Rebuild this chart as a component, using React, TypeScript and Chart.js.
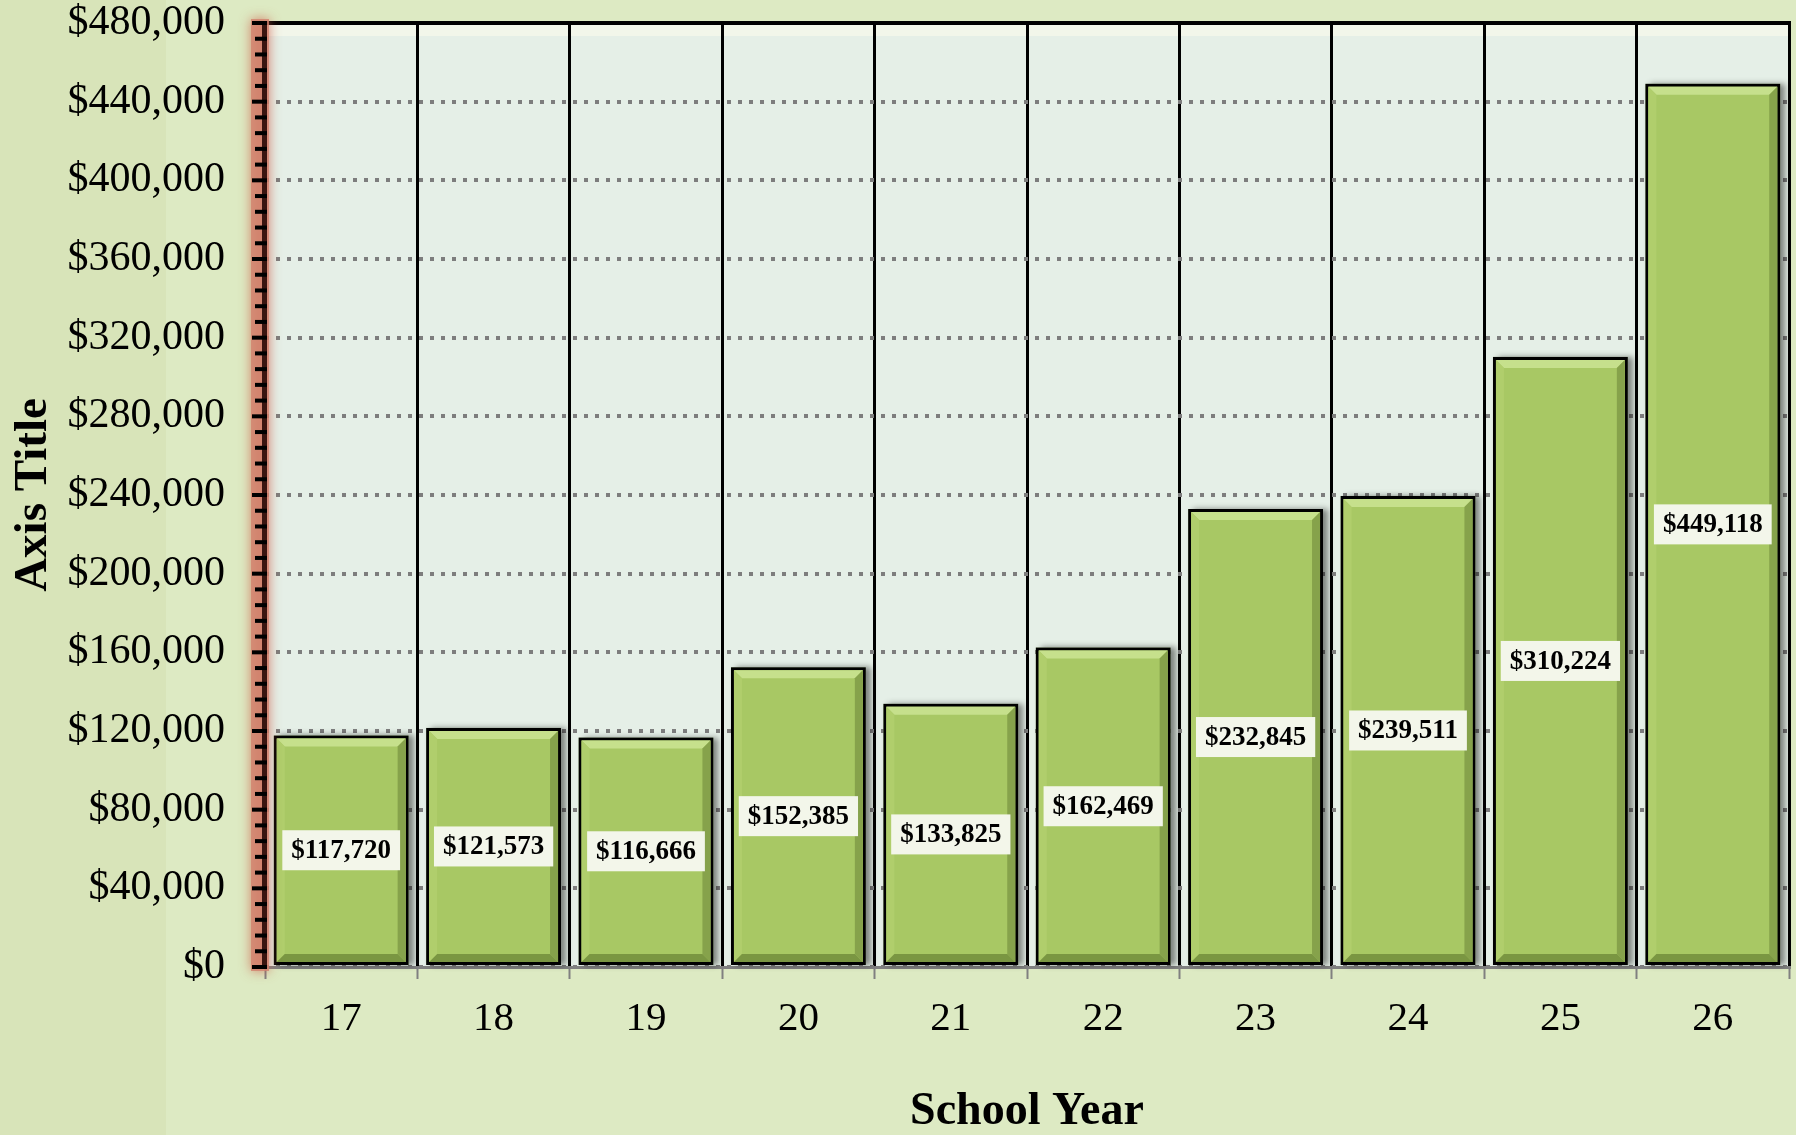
import React, { useEffect, useRef } from "react";
import { Chart, registerables } from "chart.js";

Chart.register(...registerables);

const categories = ["17", "18", "19", "20", "21", "22", "23", "24", "25", "26"];
const values = [117720, 121573, 116666, 152385, 133825, 162469, 232845, 239511, 310224, 449118];
const yMin = 0;
const yMax = 480000;
const yStep = 40000;
const yMinorStep = 8000;
const xTitle = "School Year";
const yTitle = "Axis Title";

const FONT = "'Liberation Serif', 'Times New Roman', serif";
const fmt = (v: number) => "$" + Math.round(v).toLocaleString("en-US");

const bgPlugin = {
  id: "bgPlugin",
  beforeDraw(chart: any) {
    const { ctx, width, height, chartArea } = chart;
    ctx.save();
    ctx.fillStyle = "#DDEAC3";
    ctx.fillRect(0, 0, width, height);
    ctx.fillStyle = "#D8E4B9";
    ctx.fillRect(0, 0, 166, height);
    const { left, top, right, bottom } = chartArea;
    ctx.fillStyle = "#E5EFE7";
    ctx.fillRect(left, top, right - left, bottom - top);
    ctx.fillStyle = "#F2F6EA";
    ctx.fillRect(left, top + 2, right - left, 11);
    ctx.restore();
  },
  beforeDatasetsDraw(chart: any) {
    const { ctx } = chart;
    const meta = chart.getDatasetMeta(0);
    ctx.save();
    ctx.shadowColor = "rgba(0,0,0,0.45)";
    ctx.shadowBlur = 6;
    ctx.shadowOffsetX = 5;
    ctx.shadowOffsetY = 0;
    ctx.fillStyle = "#6d7d5a";
    meta.data.forEach((el: any) => {
      const l = el.x - el.width / 2;
      ctx.fillRect(l, el.y, el.width, el.base - el.y);
    });
    ctx.restore();
  },
  afterDatasetsDraw(chart: any) {
    const { ctx, chartArea } = chart;
    const meta = chart.getDatasetMeta(0);
    ctx.save();
    meta.data.forEach((el: any) => {
      const i = 3;
      const l = el.x - el.width / 2 + i;
      const r = el.x + el.width / 2 - i;
      const t = el.y + i;
      const b = el.base - i;
      const bv = 8;
      const poly = (pts: number[][], color: string) => {
        ctx.beginPath();
        ctx.moveTo(pts[0][0], pts[0][1]);
        for (let k = 1; k < pts.length; k++) ctx.lineTo(pts[k][0], pts[k][1]);
        ctx.closePath();
        ctx.fillStyle = color;
        ctx.fill();
      };
      poly([[l, t], [r, t], [r - bv, t + bv], [l + bv, t + bv]], "#C6E08C");
      poly([[l, t], [l + bv, t + bv], [l + bv, b - bv], [l, b]], "#B0CE6C");
      poly([[r, t], [r, b], [r - bv, b - bv], [r - bv, t + bv]], "#86A24B");
      poly([[l, b], [r, b], [r - bv, b - bv], [l + bv, b - bv]], "#7A9642");
    });
    // data labels
    ctx.font = `bold 27px ${FONT}`;
    ctx.textAlign = "center";
    ctx.textBaseline = "middle";
    meta.data.forEach((el: any, idx: number) => {
      const txt = fmt(values[idx]);
      const cy = (el.y + el.base) / 2;
      const w = ctx.measureText(txt).width + 18;
      const h = 40;
      ctx.fillStyle = "#F3F6EA";
      ctx.fillRect(el.x - w / 2, cy - h / 2, w, h);
      ctx.fillStyle = "#000";
      ctx.fillText(txt, el.x, cy + 1);
    });
    // top border
    ctx.fillStyle = "#000";
    ctx.fillRect(chartArea.left - 2, chartArea.top - 2, chartArea.right - chartArea.left + 4, 4);
    // left axis with red glow
    const ys = chart.scales.y;
    const ax = chartArea.left;
    ctx.save();
    ctx.shadowColor = "rgba(205,90,70,0.9)";
    ctx.shadowBlur = 12;
    ctx.fillStyle = "rgba(210,130,110,0.8)";
    ctx.fillRect(ax - 14, chartArea.top - 4, 18, chartArea.bottom - chartArea.top + 8);
    ctx.restore();
    ctx.fillStyle = "#3a1510";
    ctx.fillRect(ax - 3, chartArea.top - 2, 5, chartArea.bottom - chartArea.top + 2);
    ctx.fillStyle = "#000";
    for (let v = yMin; v <= yMax; v += yMinorStep) {
      const py = ys.getPixelForValue(v);
      const major = v % yStep === 0;
      const x0 = major ? ax - 13 : ax - 10;
      ctx.fillRect(x0, py - 2, ax + 2 - x0, 4);
    }
    ctx.restore();
  },
};

export default function App() {
  const ref = useRef<HTMLCanvasElement | null>(null);
  useEffect(() => {
    if (!ref.current) return;
    const chart = new Chart(ref.current, {
      type: "bar",
      data: {
        labels: categories,
        datasets: [
          {
            data: values,
            backgroundColor: "#A8C864",
            borderColor: "#000000",
            borderWidth: 3,
            borderSkipped: false,
            categoryPercentage: 1,
            barPercentage: 0.885,
          },
        ],
      },
      options: {
        responsive: false,
        devicePixelRatio: 1,
        animation: false,
        layout: { padding: { top: 23, right: 7, left: 0, bottom: 0 } },
        plugins: { legend: { display: false }, tooltip: { enabled: false } },
        scales: {
          x: {
            type: "category",
            offset: true,
            grid: {
              offset: true,
              color: "#000000",
              lineWidth: 3,
              drawTicks: true,
              tickLength: 12,
              tickColor: "#808080",
              tickWidth: 2,
            },
            border: { display: true, color: "#808080", width: 3 },
            ticks: {
              color: "#000",
              font: { family: FONT, size: 41 },
              padding: 16,
              maxRotation: 0,
            },
            title: {
              display: true,
              text: xTitle,
              color: "#000",
              font: { family: FONT, size: 46, weight: "bold", lineHeight: 1 },
              padding: { top: 0, bottom: 0 },
            },
            afterFit(scale: any) {
              scale.height = 168;
              scale.paddingLeft = 0;
              scale.paddingRight = 0;
            },
          },
          y: {
            min: yMin,
            max: yMax,
            ticks: {
              stepSize: yStep,
              color: "#000",
              font: { family: FONT, size: 42 },
              padding: 40,
              callback: (v: any) => fmt(Number(v)),
            },
            grid: {
              color: "#7d7d7d",
              lineWidth: 4,
              drawTicks: false,
              tickLength: 0,
            },
            border: { display: false, dash: [4, 7] },
            title: {
              display: true,
              text: yTitle,
              color: "#000",
              font: { family: FONT, size: 47, weight: "bold", lineHeight: 1 },
              padding: { top: 10, bottom: 0 },
            },
            afterFit(scale: any) {
              scale.width = 265;
              scale.paddingTop = 0;
              scale.paddingBottom = 0;
            },
          },
        },
      },
      plugins: [bgPlugin],
    } as any);
    return () => chart.destroy();
  }, []);
  return (
    <div style={{ position: "fixed", left: 0, top: 0, width: 1796, height: 1135 }}>
      <canvas ref={ref} width={1796} height={1135} style={{ width: 1796, height: 1135, display: "block" }} />
    </div>
  );
}
